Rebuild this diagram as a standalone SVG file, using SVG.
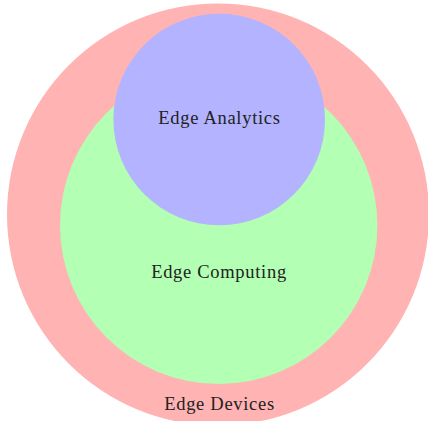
<svg xmlns="http://www.w3.org/2000/svg" width="428" height="421" viewBox="0 0 428 421">
<style>
text{font-family:"Liberation Serif","DejaVu Serif",serif;font-size:18.5px;letter-spacing:0.7px;fill:#222;text-anchor:middle}
</style>
<rect width="428" height="421" fill="#fff"/>
<g id="edge-devices">
<circle cx="218" cy="214.5" r="211" fill="#ffb3b3"/>
<text x="219.5" y="410">Edge Devices</text>
</g>
<g id="edge-computing">
<circle cx="218.7" cy="225.3" r="158.7" fill="#b3ffb3"/>
<text x="219" y="277.5">Edge Computing</text>
</g>
<g id="edge-analytics">
<circle cx="219.2" cy="119.5" r="105.8" fill="#b3b3ff"/>
<text x="219.5" y="124">Edge Analytics</text>
</g>
<g id="connectors"/>
</svg>
